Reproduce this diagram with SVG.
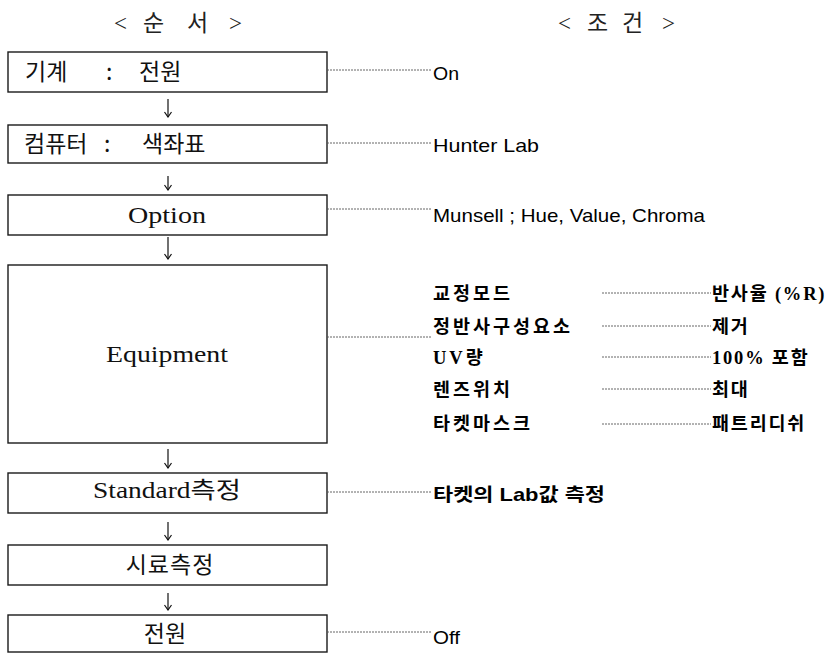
<svg xmlns="http://www.w3.org/2000/svg" width="829" height="653" viewBox="0 0 829 653">
<style>
.box{fill:#fff;stroke:#1a1a1a;stroke-width:1.4}
.dot{stroke:#555;stroke-width:0.9;stroke-dasharray:2 1;fill:none}
.arr{stroke:#111;stroke-width:1.2;fill:none}
.hd{font-family:"Liberation Serif","Noto Sans CJK KR",serif;font-size:23px;fill:#222}
.bk{font-family:"Noto Sans CJK KR",sans-serif;font-size:23px;fill:#111;font-weight:400}
.bl{font-family:"Liberation Serif","Noto Sans CJK KR",serif;font-size:23px;fill:#111}
.rt{font-family:"Liberation Sans","Noto Sans CJK KR",sans-serif;font-size:18.5px;fill:#000}
.lk{font-family:"Liberation Serif","Noto Sans CJK KR",serif;font-size:18.5px;fill:#000;font-weight:bold;letter-spacing:3px}
.lv{font-family:"Liberation Serif","Noto Sans CJK KR",serif;font-size:18.5px;fill:#000;font-weight:bold;letter-spacing:1.8px}
</style>
<defs>
<marker id="ah" viewBox="0 0 10 10" refX="9" refY="5" markerWidth="10" markerHeight="10" markerUnits="userSpaceOnUse" orient="auto">
<path d="M4,1.5 L9,5 L4,8.5" fill="none" stroke="#111" stroke-width="1.2"/>
</marker>
</defs>
<g id="headers">
<text class="hd" y="31"><tspan x="114">&lt;</tspan><tspan x="143">순</tspan><tspan x="187">서</tspan><tspan x="229">&gt;</tspan></text>
<text class="hd" y="31"><tspan x="558">&lt;</tspan><tspan x="587">조</tspan><tspan x="622">건</tspan><tspan x="662">&gt;</tspan></text>
</g>
<g id="node-power-on">
<rect class="box" x="8" y="52" width="319" height="40"/>
<text class="bk" y="80"><tspan x="25">기계</tspan><tspan x="106">:</tspan><tspan x="139">전원</tspan></text>
</g>
<g id="node-computer">
<rect class="box" x="8" y="125" width="319" height="38"/>
<text class="bk" y="152"><tspan x="24">컴퓨터</tspan><tspan x="104">:</tspan><tspan x="142">색좌표</tspan></text>
</g>
<g id="node-option">
<rect class="box" x="8" y="195" width="319" height="40"/>
<text class="bl" x="167" y="223" text-anchor="middle" textLength="78" lengthAdjust="spacingAndGlyphs">Option</text>
</g>
<g id="node-equipment">
<rect class="box" x="8" y="265" width="319" height="178"/>
<text class="bl" x="167" y="362" text-anchor="middle" textLength="122" lengthAdjust="spacingAndGlyphs">Equipment</text>
</g>
<g id="node-standard">
<rect class="box" x="8" y="473" width="319" height="40"/>
<text class="bl" x="167" y="498" text-anchor="middle" textLength="148" lengthAdjust="spacingAndGlyphs">Standard측정</text>
</g>
<g id="node-sample">
<rect class="box" x="8" y="545" width="319" height="40"/>
<text class="bk" x="170" y="573" text-anchor="middle" letter-spacing="1">시료측정</text>
</g>
<g id="node-power-off">
<rect class="box" x="8" y="615" width="319" height="37"/>
<text class="bk" x="165" y="642" text-anchor="middle">전원</text>
</g>
<g id="connectors">
<line class="arr" x1="168" y1="99" x2="168" y2="117" marker-end="url(#ah)"/>
<line class="arr" x1="168" y1="176" x2="168" y2="190" marker-end="url(#ah)"/>
<line class="arr" x1="168" y1="237" x2="168" y2="259" marker-end="url(#ah)"/>
<line class="arr" x1="168" y1="449" x2="168" y2="468" marker-end="url(#ah)"/>
<line class="arr" x1="168" y1="522" x2="168" y2="540" marker-end="url(#ah)"/>
<line class="arr" x1="168" y1="593" x2="168" y2="610" marker-end="url(#ah)"/>
<line class="dot" x1="327" y1="70" x2="431" y2="70"/>
<line class="dot" x1="327" y1="143" x2="431" y2="143"/>
<line class="dot" x1="327" y1="209" x2="431" y2="209"/>
<line class="dot" x1="327" y1="337" x2="431" y2="337"/>
<line class="dot" x1="327" y1="492" x2="431" y2="492"/>
<line class="dot" x1="327" y1="632" x2="431" y2="632"/>
<line class="dot" x1="602" y1="293" x2="711" y2="293"/>
<line class="dot" x1="602" y1="326" x2="711" y2="326"/>
<line class="dot" x1="602" y1="357" x2="711" y2="357"/>
<line class="dot" x1="602" y1="389" x2="711" y2="389"/>
<line class="dot" x1="602" y1="424" x2="711" y2="424"/>
</g>
<g id="conditions">
<text class="rt" x="433" y="80" textLength="26" lengthAdjust="spacingAndGlyphs">On</text>
<text class="rt" x="433" y="152" textLength="106" lengthAdjust="spacingAndGlyphs">Hunter Lab</text>
<text class="rt" x="433" y="222" textLength="272" lengthAdjust="spacingAndGlyphs">Munsell ; Hue, Value, Chroma</text>
<text class="rt" x="433" y="501" font-weight="bold" textLength="172" lengthAdjust="spacingAndGlyphs">타켓의 Lab값 측정</text>
<text class="rt" x="433" y="644" textLength="27" lengthAdjust="spacingAndGlyphs">Off</text>
</g>
<g id="equipment-settings">
<text class="lk" x="433" y="300">교정모드</text>
<text class="lk" x="433" y="333">정반사구성요소</text>
<text class="lk" x="433" y="364">UV량</text>
<text class="lk" x="433" y="396">렌즈위치</text>
<text class="lk" x="433" y="430">타켓마스크</text>
<text class="lv" x="712" y="300">반사율 (%R)</text>
<text class="lv" x="712" y="333">제거</text>
<text class="lv" x="712" y="364">100% 포함</text>
<text class="lv" x="712" y="396">최대</text>
<text class="lv" x="712" y="430">패트리디쉬</text>
</g>
</svg>
